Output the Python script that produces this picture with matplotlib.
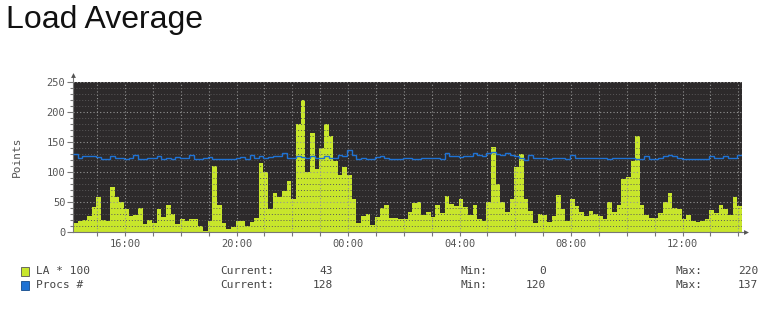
import numpy as np
import matplotlib
matplotlib.use("Agg")
import matplotlib.pyplot as plt
from matplotlib.patches import Rectangle
from matplotlib.ticker import MultipleLocator, FixedLocator

# ---------------- data ----------------
start_hour = 14 + 8 / 60      # first sample 14:08
step_hours = 10 / 60          # 10 minute samples

la_values = [
    15, 18, 20, 27, 42, 58, 20, 18, 75, 59,
    50, 38, 27, 29, 40, 13, 20, 15, 38, 25,
    45, 30, 13, 22, 18, 21, 22, 10, 2, 18,
    110, 45, 15, 5, 9, 19, 18, 10, 17, 24,
    115, 100, 38, 65, 59, 68, 85, 55, 180, 220,
    100, 165, 105, 140, 180, 160, 118, 95, 108, 95,
    55, 15, 26, 30, 12, 25, 40, 45, 23, 23,
    22, 22, 34, 48, 50, 29, 33, 25, 45, 32,
    60, 47, 44, 55, 42, 28, 45, 22, 18, 50,
    142, 80, 50, 34, 55, 108, 130, 55, 35, 15,
    30, 28, 17, 26, 62, 38, 18, 55, 44, 33,
    27, 35, 30, 26, 22, 50, 33, 45, 88, 92,
    118, 160, 45, 28, 23, 24, 32, 50, 65, 40,
    39, 22, 28, 18, 16, 18, 22, 36, 31, 45,
    38, 28, 58, 43,
]

procs_values = [
    130, 123, 127, 127, 127, 125, 122, 122, 126, 123,
    123, 122, 123, 128, 122, 122, 124, 123, 127, 122,
    124, 122, 125, 123, 123, 129, 122, 122, 123, 125,
    122, 122, 122, 122, 122, 124, 125, 122, 129, 123,
    126, 124, 125, 126, 127, 131, 124, 123, 126, 125,
    123, 126, 123, 123, 126, 123, 123, 128, 127, 137,
    128, 122, 123, 122, 121, 125, 126, 123, 122, 122,
    122, 124, 123, 122, 121, 123, 123, 123, 123, 122,
    131, 127, 127, 125, 127, 127, 131, 128, 127, 132,
    133, 130, 128, 131, 129, 127, 124, 120, 128, 123,
    124, 124, 122, 124, 124, 123, 122, 128, 124, 123,
    123, 123, 123, 123, 124, 122, 124, 123, 123, 124,
    124, 122, 122, 127, 122, 122, 123, 126, 128, 126,
    123, 122, 122, 122, 122, 122, 122, 126, 124, 124,
    127, 123, 124, 128,
]

xtick_hours = [16, 20, 24, 28, 32, 36]
xtick_labels = ["16:00", "20:00", "00:00", "04:00", "08:00", "12:00"]

legend_names = ["LA * 100", "Procs #"]
legend_current = [43, 128]
legend_min = [0, 120]
legend_max = [220, 137]

# ---------------- style ----------------
W, H = 761, 315
yellow = "#c8e62c"
blue = "#1f72d3"
bg = "#2d2a2b"
txt = "#555555"
mono = "DejaVu Sans Mono"

fig = plt.figure(figsize=(W / 100, H / 100), dpi=100)
fig.patch.set_facecolor("white")
L, R, T, B = 73, 742, 82, 232
ax = fig.add_axes([L / W, 1 - B / H, (R - L) / W, (B - T) / H])
ax.set_facecolor(bg)

edges = start_hour + step_hours * np.arange(len(la_values) + 1)
ax.stairs(la_values, edges, fill=True, color=yellow, baseline=0, zorder=1)
ax.stairs(procs_values, edges, baseline=None, color=blue, lw=1.0, zorder=5)

ax.set_xlim(edges[0], edges[-1])
ax.set_ylim(0, 250)

ax.xaxis.set_major_locator(FixedLocator(xtick_hours))
ax.set_xticklabels(xtick_labels)
ax.xaxis.set_minor_locator(MultipleLocator(1))
ax.yaxis.set_major_locator(MultipleLocator(50))
ax.yaxis.set_minor_locator(MultipleLocator(10))

ax.set_axisbelow(False)
dot = (0, (1, 2))
ax.grid(which="major", color="#959595", lw=0.8, ls=dot, zorder=3)
ax.grid(which="minor", axis="x", color="#959595", lw=0.8, ls=dot, zorder=3)
ax.grid(which="minor", axis="y", color="#5a5859", lw=0.7, ls=dot, zorder=2)

for s in ["top", "right"]:
    ax.spines[s].set_visible(False)
for s in ["left", "bottom"]:
    ax.spines[s].set_color("#777777")
    ax.spines[s].set_linewidth(0.8)

ax.tick_params(axis="both", which="both", colors="#777777", direction="out",
               labelcolor=txt, labelsize=7.5, width=0.8)
ax.tick_params(axis="y", which="major", length=4, pad=1.5)
ax.tick_params(axis="y", which="minor", length=2)
ax.tick_params(axis="x", which="major", length=3, pad=2)
ax.tick_params(axis="x", which="minor", length=3)
for lab in ax.get_xticklabels() + ax.get_yticklabels():
    lab.set_family(mono)

# axis arrows
ax.plot([0, 0], [1, 1.045], transform=ax.transAxes, clip_on=False,
        color="#777777", lw=0.8)
ax.plot([0], [1.045], transform=ax.transAxes, clip_on=False, marker="^",
        color="#555555", ms=3.5, mew=0)
ax.plot([1, 1.006], [0, 0], transform=ax.transAxes, clip_on=False,
        color="#777777", lw=0.8)
ax.plot([1.006], [0], transform=ax.transAxes, clip_on=False, marker=">",
        color="#555555", ms=3.5, mew=0)

# title and axis label
fig.text(6 / W, 1 - 28 / H, "Load Average", family="Liberation Sans",
         size=23, color="#111111", va="baseline", ha="left")
fig.text(17 / W, 1 - 157 / H, "Points", family=mono, size=8, color=txt,
         rotation=90, va="center", ha="center")

# legend
rows_y = [271, 285]
colors = [yellow, blue]
edgecols = ["#555555", "#124a8a"]
for i in range(2):
    yc = 1 - rows_y[i] / H
    fig.add_artist(Rectangle((21 / W, yc - 4.5 / H), 8 / W, 9 / H,
                             transform=fig.transFigure, facecolor=colors[i],
                             edgecolor=edgecols[i], lw=0.6))
    kw = dict(family=mono, size=8, color="#444444", va="center")
    fig.text(36 / W, yc, legend_names[i], ha="left", **kw)
    fig.text(220 / W, yc, "Current:", ha="left", **kw)
    fig.text(333 / W, yc, str(legend_current[i]), ha="right", **kw)
    fig.text(461 / W, yc, "Min:", ha="left", **kw)
    fig.text(546 / W, yc, str(legend_min[i]), ha="right", **kw)
    fig.text(675 / W, yc, "Max:", ha="left", **kw)
    fig.text(758 / W, yc, str(legend_max[i]), ha="right", **kw)

fig.savefig("out.png", dpi=100)
